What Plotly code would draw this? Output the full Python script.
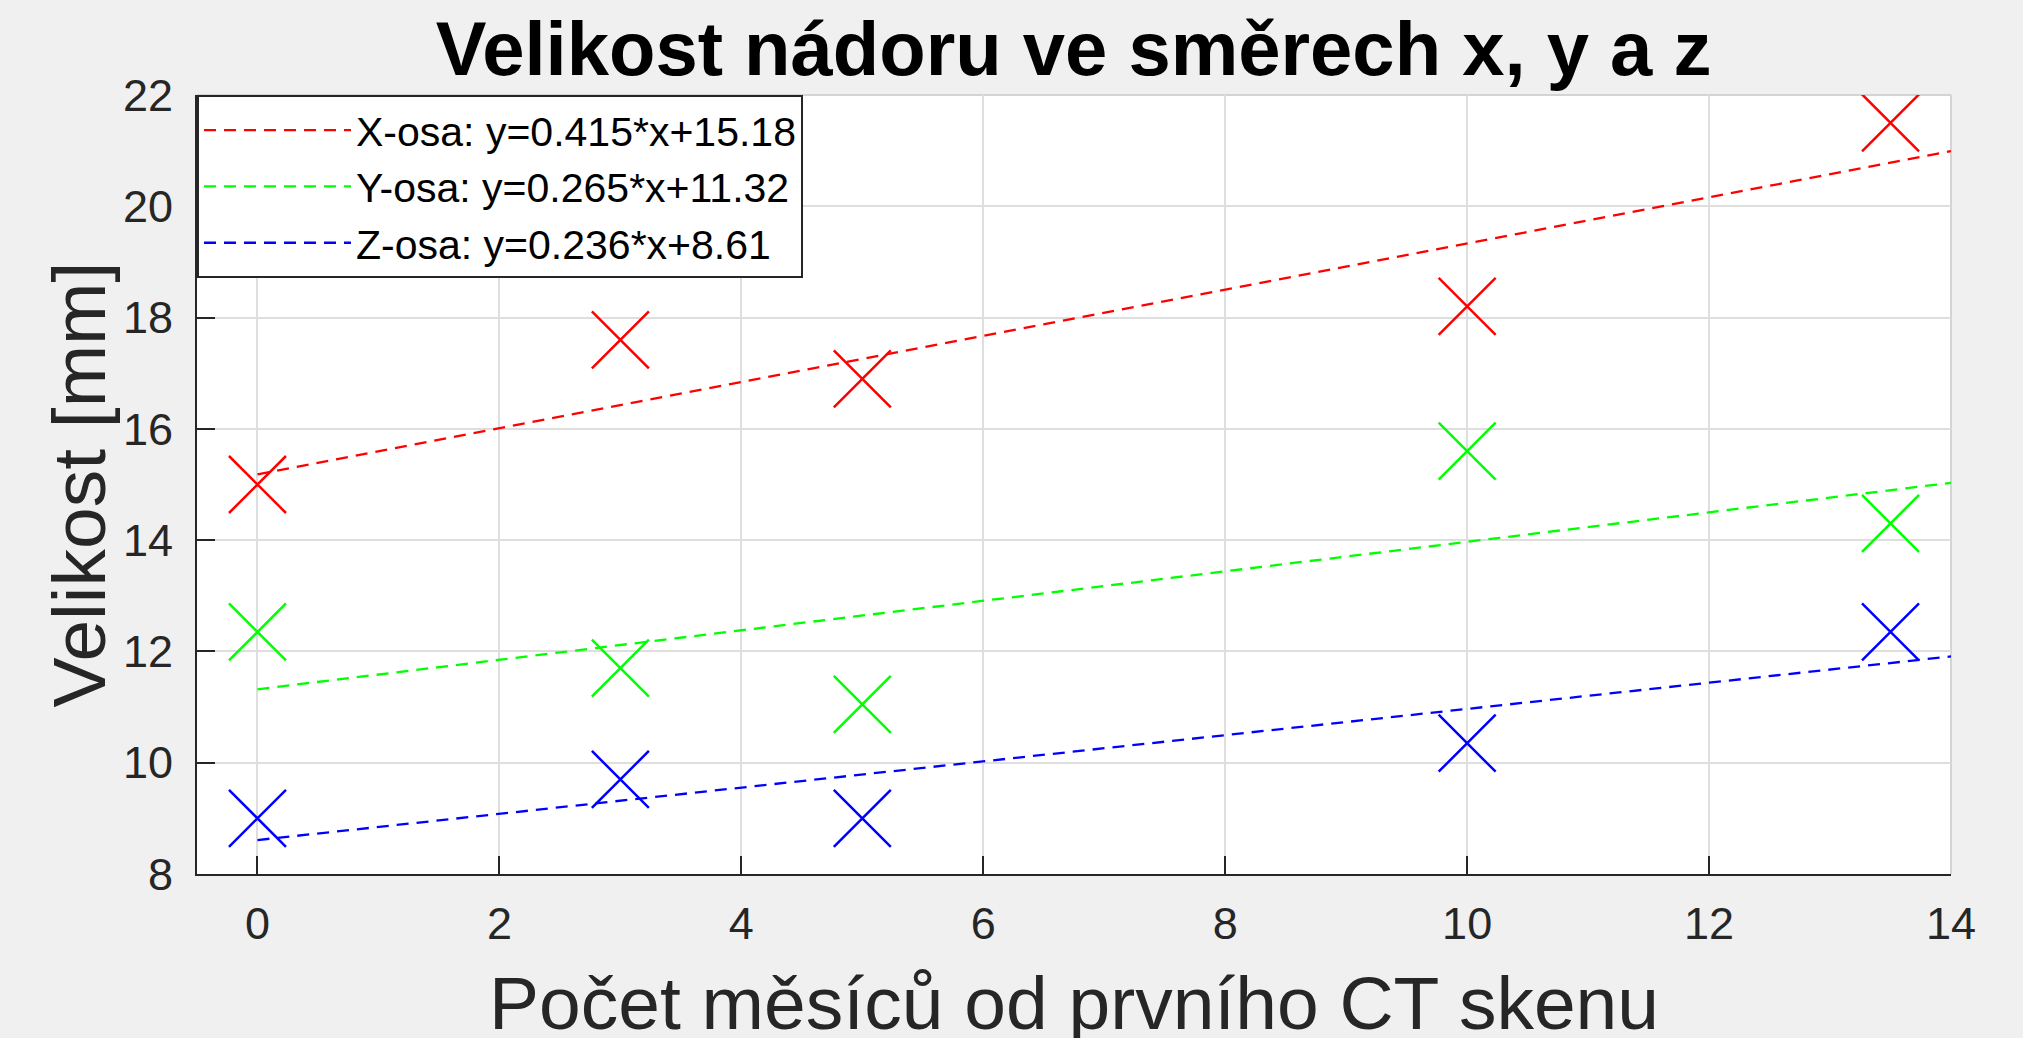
import plotly.graph_objects as go

# ---- data ----
months = [0, 3, 5, 10, 13.5]
x_size = [15.0, 17.6, 16.9, 18.2, 21.5]
y_size = [12.35, 11.7, 11.05, 15.6, 14.3]
z_size = [9.0, 9.7, 9.0, 10.35, 12.35]

fit_x = [0, 14]
fit_xaxis = [15.18, 20.99]
fit_yaxis = [11.32, 15.03]
fit_zaxis = [8.61, 11.91]

fit_names = ["X-osa: y=0.415*x+15.18", "Y-osa: y=0.265*x+11.32", "Z-osa: y=0.236*x+8.61"]
colors = ["#ff0000", "#00ff00", "#0000ff"]

x_ticks = [0, 2, 4, 6, 8, 10, 12, 14]
y_ticks = [8, 10, 12, 14, 16, 18, 20, 22]

title_text = "Velikost nádoru ve směrech x, y a z"
x_title = "Počet měsíců od prvního CT skenu"
y_title = "Velikost [mm]"

FONT = "Liberation Sans, Arial, Helvetica, sans-serif"
AX = "#262626"

fig = go.Figure()

for fy, name, c in zip([fit_xaxis, fit_yaxis, fit_zaxis], fit_names, colors):
    fig.add_trace(go.Scatter(x=fit_x, y=fy, mode="lines", name=name,
                             line=dict(color=c, width=2.3, dash="12px,8px")))

for ys, c in zip([x_size, y_size, z_size], colors):
    fig.add_trace(go.Scatter(x=months, y=ys, mode="markers", showlegend=False,
                             marker=dict(symbol="x-thin", size=57, color=c,
                                         line=dict(color=c, width=2.5))))

# light top/right box edges
fig.add_shape(type="line", xref="paper", yref="paper", x0=0, x1=1, y0=1, y1=1,
              line=dict(color="#d4d4d4", width=2), layer="below")
fig.add_shape(type="line", xref="paper", yref="paper", x0=1, x1=1, y0=0, y1=1,
              line=dict(color="#d4d4d4", width=2), layer="below")

# axis titles
fig.add_annotation(text=x_title, xref="paper", yref="paper", x=0.5, y=0,
                   xanchor="center", yanchor="middle", yshift=-129, showarrow=False,
                   font=dict(size=75, color=AX, family=FONT))
fig.add_annotation(text=y_title, xref="paper", yref="paper", x=0, y=0.5,
                   xanchor="center", yanchor="middle", xshift=-119, textangle=-90,
                   showarrow=False, font=dict(size=75, color=AX, family=FONT))

fig.update_layout(
    width=2023, height=1038,
    margin=dict(l=197, r=72, t=95, b=164),
    paper_bgcolor="#f0f0f0", plot_bgcolor="#ffffff",
    font=dict(family=FONT, color=AX),
    title=dict(text="<b>" + title_text + "</b>",
               font=dict(size=76, color="#000000", family=FONT),
               x=0.5307, xanchor="center", xref="container",
               y=1 - 48 / 1038, yanchor="middle", yref="container"),
    xaxis=dict(range=[-0.5, 14], tickvals=x_ticks, ticks="inside", ticklen=18,
               tickwidth=2, tickcolor=AX, showline=True, linecolor=AX, linewidth=2,
               showgrid=True, gridcolor="#dedede", gridwidth=2, zeroline=False,
               automargin=False, ticklabelstandoff=9,
               tickfont=dict(size=45, color=AX, family=FONT)),
    yaxis=dict(range=[8, 22], tickvals=y_ticks, ticks="inside", ticklen=18,
               tickwidth=2, tickcolor=AX, showline=True, linecolor=AX, linewidth=2,
               showgrid=True, gridcolor="#dedede", gridwidth=2, zeroline=False,
               automargin=False, ticklabelstandoff=13,
               tickfont=dict(size=45, color=AX, family=FONT)),
    legend=dict(x=0, y=1, xanchor="left", yanchor="top",
                bgcolor="#ffffff", bordercolor=AX, borderwidth=2,
                font=dict(size=41, color="#000000", family=FONT),
                itemwidth=147, tracegroupgap=0),
    showlegend=True,
)

fig.write_html("out.html", config={"displayModeBar": False},
               post_script="document.body.style.margin='0px';"
               "document.body.style.overflow='hidden';")
